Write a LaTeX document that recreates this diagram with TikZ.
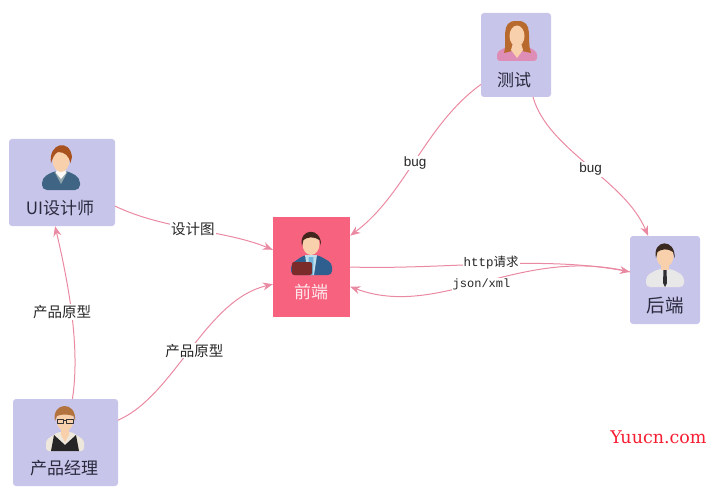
\documentclass[tikz,border=0pt]{standalone}
\usepackage{fontspec}
\setmainfont{Noto Sans CJK SC}
\newfontfamily\latinfont{Liberation Sans}
\newfontfamily\codefont{Liberation Mono}
\newfontfamily\markfont{DejaVu Serif}
\usetikzlibrary{arrows.meta}
\definecolor{boxblue}{HTML}{C8C5EA}
\definecolor{boxpink}{HTML}{F7637F}
\definecolor{linkpink}{HTML}{EA8AA2}
\definecolor{skin}{HTML}{F9D0AC}
\definecolor{inktext}{HTML}{2A2A3E}
\tikzset{
	rolebox/.style={fill=boxblue,rounded corners=3pt,inner sep=0pt},
	roletext/.style={text=inktext,font=\fontsize{17}{19}\selectfont,inner sep=0pt},
	link/.style={draw=linkpink,line width=1pt,-{Stealth[length=10pt,width=8pt]}},
	linklabel/.style={fill=white,text=black!85,inner sep=1pt,font=\fontsize{14.5}{16}\selectfont},
	buglabel/.style={linklabel,font=\latinfont\fontsize{13.5}{15}\selectfont},
}
\begin{document}
\begin{tikzpicture}[line cap=round,line join=round,>=stealth,x=1pt,y=-1pt]
	\useasboundingbox (0,0) rectangle (720,492);
	% boxes
	\node[rolebox,minimum width=106pt,minimum height=87pt] (ui) at (62,182.5) {};
	\node[fill=boxpink,inner sep=0pt,minimum width=77pt,minimum height=100pt] (front) at (311.5,267) {};
	\node[rolebox,minimum width=70pt,minimum height=84pt] (test) at (516,55) {};
	\node[rolebox,minimum width=70pt,minimum height=88pt] (back) at (665,280) {};
	\node[rolebox,minimum width=105pt,minimum height=87pt] (pm) at (65.5,442.5) {};
	\node[roletext] (uitext) at (60,208) {UI设计师};
	\node[roletext,text=white!85!boxpink] (fronttext) at (311,292) {前端};
	\node[roletext] (testtext) at (514,80) {测试};
	\node[roletext,font=\fontsize{18.5}{20}\selectfont] (backtext) at (665,306) {后端};
	\node[roletext] (pmtext) at (64,468) {产品经理};
	% designer
	\begin{scope}[shift={(61,160)}]
		\fill[fill={rgb,255:red,63;green,100;blue,132},rounded corners=5pt] (-19,30) -- (-19,18) -- (-7,11) -- (7,11) -- (19,18) -- (19,30) -- cycle;
		\fill[fill={rgb,255:red,143;green,165;blue,174}] (-7,11) -- (7,11) -- (0,24) -- cycle;
		\fill[white!90!skin] (-4,8) -- (4,8) -- (5,13) -- (0,19) -- (-5,13) -- cycle;
		\fill[skin] (0,0) ellipse [x radius=8.5,y radius=12];
		\fill[fill={rgb,255:red,168;green,82;blue,31}] (-10,3) .. controls (-13,-17) and (9,-22) .. (11,-3) -- (9.5,3) .. controls (8,-4) and (4,-8) .. (-3,-8) .. controls (-7,-6) and (-8,-2) .. (-10,3) -- cycle;
	\end{scope}
	% front end
	\begin{scope}[shift={(311,243)}]
		\fill[fill={rgb,255:red,46;green,95;blue,142},rounded corners=4pt] (-20,32) -- (-20,21) -- (-7,12) -- (7,12) -- (21,20) -- (21,32) -- cycle;
		\fill[fill={rgb,255:red,190;green,222;blue,235}] (-6,12) -- (6,12) -- (3,32) -- (-3,32) -- cycle;
		\fill[fill={rgb,255:red,109;green,181;blue,219}] (-2.5,14) -- (2.5,14) -- (2,32) -- (-2,32) -- cycle;
		\fill[fill={rgb,255:red,124;green,43;blue,43},rounded corners=2pt] (-19,19) rectangle (1,32);
		\fill[skin] (0,1) ellipse [x radius=8.5,y radius=11];
		\fill[fill={rgb,255:red,66;green,38;blue,30}] (-9,3) .. controls (-13,-15) and (11,-17) .. (10,3) -- (8.5,-3) .. controls (3,-7) and (-4,-6) .. (-7.5,-3) -- cycle;
	\end{scope}
	% tester
	\begin{scope}[shift={(517,38)}]
		\fill[fill={rgb,255:red,222;green,141;blue,182},rounded corners=3pt] (-20,23) -- (-20,14) -- (-9,8) -- (10,8) -- (20,14) -- (20,23) -- cycle;
		\fill[fill={rgb,255:red,184;green,105;blue,46}] (-13,15) .. controls (-9,3) and (-18,-18) .. (0,-17) .. controls (18,-18) and (9,3) .. (14,15) -- (5,13) -- (-5,13) -- cycle;
		\fill[skin] (-4,5) -- (4,5) -- (6,12) -- (0,20) -- (-6,12) -- cycle;
		\fill[skin] (0,-2) ellipse [x radius=7.5,y radius=10.5];
	\end{scope}
	% back end
	\begin{scope}[shift={(665,256)}]
		\fill[fill={rgb,255:red,232;green,232;blue,232},rounded corners=4pt] (-19,31) -- (-19,20) -- (-7,13) -- (7,13) -- (19,20) -- (19,31) -- cycle;
		\fill[skin] (-4,6) rectangle (4,14);
		\fill[fill={rgb,255:red,45;green,45;blue,50}] (-1.5,14) -- (1.5,14) -- (2,27) -- (0,31) -- (-2,27) -- cycle;
		\fill[skin] (0,0) ellipse [x radius=8.5,y radius=11];
		\fill[fill={rgb,255:red,59;green,42;blue,31}] (-9,2) .. controls (-13,-17) and (11,-18) .. (9.5,2) -- (8,-4) .. controls (3,-8) and (-4,-7) .. (-7.5,-4) -- cycle;
	\end{scope}
	% manager
	\begin{scope}[shift={(65,420)}]
		\fill[fill={rgb,255:red,238;green,232;blue,220},rounded corners=3pt] (-19,31) -- (-19,20) -- (-7,12) -- (7,12) -- (19,20) -- (19,31) -- cycle;
		\fill[black!85] (-14,31) -- (-11,15) -- (0,25) -- (11,15) -- (14,31) -- cycle;
		\fill[skin] (-4,6) -- (4,6) -- (4,15) -- (0,22) -- (-4,15) -- cycle;
		\fill[skin] (0,0) ellipse [x radius=8.5,y radius=11];
		\fill[fill={rgb,255:red,178;green,115;blue,63}] (-10,1) .. controls (-14,-18) and (12,-20) .. (10,1) -- (8.5,-4) .. controls (3,-6) and (-4,-6) .. (-8,-4) -- cycle;
		\draw[black!80,line width=1pt] (-8,-1) rectangle (-1.5,3) (1.5,-1) rectangle (8,3) (-1.5,0) -- (1.5,0);
	\end{scope}
	% connectors
	\draw[link] (ui.-24) .. controls (165,230) and (225,230) .. (front.156) node[linklabel,pos=0.5,xshift=-2pt] (uilabel) {设计图};
	\draw[link] (pm.23) .. controls (175,395) and (205,300) .. (front.204) node[linklabel,pos=0.5,xshift=3pt,yshift=-2pt] (pmfrontlabel) {产品原型};
	\draw[link] (pm.81.5) .. controls (80,350) and (70,290) .. (ui.261) node[linklabel,pos=0.5,xshift=-10pt,yshift=6pt] (pmuilabel) {产品原型};
	\draw[link] (test.220) .. controls (425,125) and (405,195) .. (front.39.7) node[buglabel,pos=0.5,yshift=-3pt] (bugfront) {bug};
	\draw[link] (test.-68) .. controls (548,150) and (625,180) .. (back.111) node[buglabel,pos=0.5,xshift=3pt,yshift=-4pt] (bugback) {bug};
	\draw[link] (back.167) .. controls (520,245) and (440,320) .. (front.-27.5) node[linklabel,pos=0.5,xshift=-1pt,yshift=-3pt] (jsonlabel) {\codefont\fontsize{12}{14}\selectfont json/xml};
	\draw[link] (front.east) .. controls (440,270) and (540,255) .. (back.167) node[linklabel,pos=0.5,xshift=1pt,yshift=2pt] (httplabel) {\codefont\fontsize{12.5}{14}\selectfont http\rmfamily 请求};
	\node[text={rgb,255:red,245;green,30;blue,50},inner sep=0pt,font=\markfont\fontsize{17.5}{19}\selectfont] (mark) at (658.5,437) {Yuucn.com};
\end{tikzpicture}
\end{document}
